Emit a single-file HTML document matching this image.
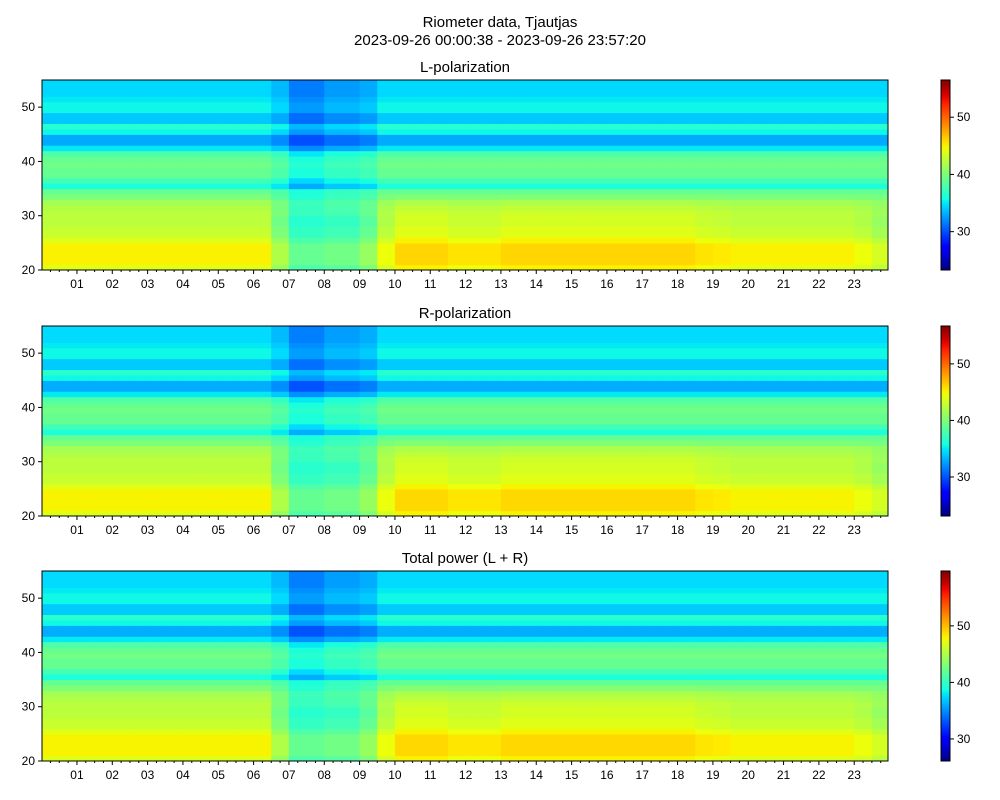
<!DOCTYPE html>
<html><head><meta charset="utf-8">
<style>
body{margin:0;background:#fff;}
svg{display:block;font-family:"Liberation Sans","DejaVu Sans",sans-serif;}
</style></head>
<body>
<svg id="fig" width="1000" height="800" viewBox="0 0 1000 800">
<text x="500" y="27" font-size="15" text-anchor="middle">Riometer data, Tjautjas</text>
<text x="500" y="45" font-size="15" text-anchor="middle">2023-09-26 00:00:38 - 2023-09-26 23:57:20</text>
</svg>
<script>
// frequency-row profiles (value per 1-unit bin from 20 to 55)
const rowL = [44,45,45,45,45,44,43,43,42.5,42.5,42.5,42,41.5,40,39,36,37.5,39,39,39.5,39,38,35,33,33,35.5,36.5,34,34,35.5,35.5,35,34.5,34.5,34.5];
const rowR = [44,45,45,45,45,44,43,43,42.5,42.5,42.5,42,41.5,40,39,36,37.5,39,39,39.5,39,38,35,33,33,35.5,36.5,34,34,35.5,35.5,35,34.5,34.5,34.5];
const rowT = [47,48,48,48,48,47,46,46,45.5,45.5,45.5,45,44.5,43,42,39,40.5,42,42,42.5,42,41,38,36,36,38.5,39.5,37,37,38.5,38.5,38,37.5,37.5,37.5];
// time offsets per half-hour bin (48 bins), low band (<32) and high band
const lowOff = [0,0,0,0,0,0,0,0,0,0,0,0,0,-3,-6,-6,-5.5,-5.5,-4,-0.5,1,1,1,0.5,0.5,0.5,1,1,1,1,1,1,1,1,1,1,1,0.5,0.3,0,0,0,0,0,0,0,-0.5,-1.5];
const highOff = [0,0,0,0,0,0,0,0,0,0,0,0,0,-1,-3,-3,-2,-2,-1.5,0,0,0,0,0,0,0,0,0,0,0,0,0,0,0,0,0,0,0,0,0,0,0,0,0,0,0,0,0];
const hourLabels = ["01","02","03","04","05","06","07","08","09","10","11","12","13","14","15","16","17","18","19","20","21","22","23"];
const yTicks = [20,30,40,50];
const panelTitles = ["L-polarization","R-polarization","Total power (L + R)"];
const panelRows = [rowL,rowR,rowT];
const panelVmin = [23.3,23.1,26.1];
const panelVmax = [56.5,56.7,59.7];
const cbTicks = [[30,40,50],[30,40,50],[30,40,50]];

const NS="http://www.w3.org/2000/svg";
const svg=document.getElementById('fig');
function mk(tag,attrs,parent){const e=document.createElementNS(NS,tag);for(const k in attrs)e.setAttribute(k,attrs[k]);(parent||svg).appendChild(e);return e;}
const JR=[[0,0],[0.35,0],[0.66,1],[0.89,1],[1,0.5]];
const JG=[[0,0],[0.125,0],[0.375,1],[0.64,1],[0.91,0],[1,0]];
const JB=[[0,0.5],[0.11,1],[0.34,1],[0.65,0],[1,0]];
function seg(s,t){for(let i=1;i<s.length;i++){if(t<=s[i][0]){const a=s[i-1],b=s[i];return a[1]+(b[1]-a[1])*(t-a[0])/(b[0]-a[0]);}}return s[s.length-1][1];}
function jet(t){t=Math.max(0,Math.min(1,t));const c=v=>Math.round(255*v);
 return `rgb(${c(seg(JR,t))},${c(seg(JG,t))},${c(seg(JB,t))})`;}
const X0=42,X1=888,T0=0.0106,T1=23.956;
const xs=h=>X0+(h-T0)/(T1-T0)*(X1-X0);
const tops=[80,326,571],H=190;
panelTitles.forEach((title,p)=>{
 const top=tops[p],bot=top+H;
 const ys=f=>bot-(f-20)/35*H;
 const vmin=panelVmin[p],vmax=panelVmax[p];
 const g=mk('g',{});
 
 
 const clip=mk('clipPath',{id:'c'+p},g);mk('rect',{x:X0,y:top,width:X1-X0,height:H},clip);
 const cg=mk('g',{'clip-path':'url(#c'+p+')'},g);
 const rows=panelRows[p];
 for(let ti=0;ti<lowOff.length;ti++){
  const xa=xs(ti*0.5),xb=xs(ti*0.5+0.5);
  for(let fi=0;fi<rows.length;fi++){
   const f=20+fi;
   const w=Math.max(0,Math.min(1,(f-29)/5));
   const v=rows[fi]+lowOff[ti]*(1-w)+highOff[ti]*w;
   const r=mk('rect',{x:xa.toFixed(2),y:ys(f+1).toFixed(2),width:(xb-xa+0.6).toFixed(2),height:(H/35+0.6).toFixed(2),fill:jet((v-vmin)/(vmax-vmin))},cg);
   
   
  }
 }
 mk('rect',{x:X0,y:top,width:X1-X0,height:H,fill:'none',stroke:'#000','stroke-width':1},g);
 const t=mk('text',{x:(X0+X1)/2,y:top-8,'font-size':15,'text-anchor':'middle'},g);t.textContent=title;
 
 
 yTicks.forEach(v=>{const y=ys(v);mk('line',{x1:X0-4,x2:X0,y1:y,y2:y,stroke:'#000'},g);
  const l=mk('text',{x:X0-7,y:y+4,'font-size':12,'text-anchor':'end'},g);l.textContent=v;
  
  });
 for(let q=1;q<96;q++){const h=q/4,x=xs(h);const major=q%4===0;
  mk('line',{x1:x,x2:x,y1:bot,y2:bot+(major?4:2),stroke:'#000'},g);}
 hourLabels.forEach((lab,i)=>{const l=mk('text',{x:xs(i+1),y:bot+18,'font-size':12,'text-anchor':'middle'},g);l.textContent=lab;
  
  });
 const gid='cb'+p;const lg=mk('linearGradient',{id:gid,x1:0,y1:1,x2:0,y2:0},g);
 for(let s=0;s<=40;s++)mk('stop',{offset:s/40,'stop-color':jet(s/40)},lg);
 const cb=mk('rect',{x:941,y:top,width:9,height:H,fill:'url(#'+gid+')',stroke:'#000','stroke-width':1},g);
 
 
 cbTicks[p].forEach(v=>{const y=bot-(v-vmin)/(vmax-vmin)*H;mk('line',{x1:950,x2:954,y1:y,y2:y,stroke:'#000'},g);
  const l=mk('text',{x:957,y:y+4,'font-size':12},g);l.textContent=v;
  
  });
});
</script>
</body></html>
